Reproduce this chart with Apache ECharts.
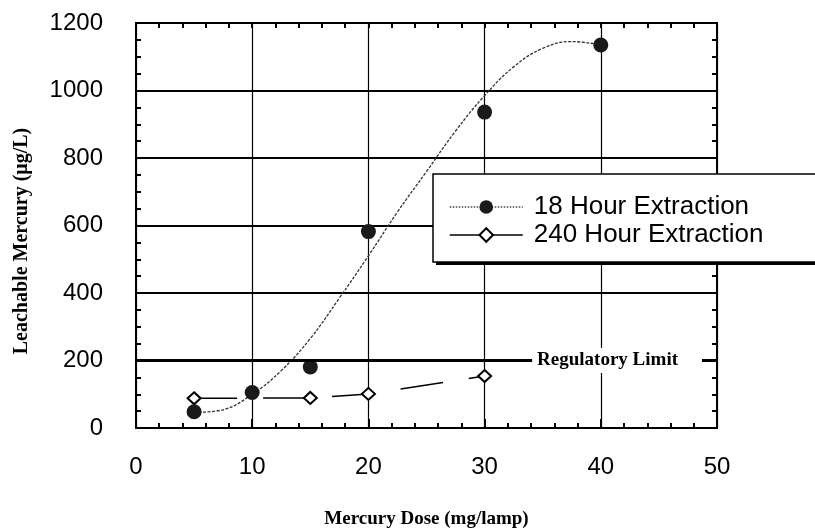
<!DOCTYPE html>
<html>
<head>
<meta charset="utf-8">
<script src="https://cdn.jsdelivr.net/npm/echarts@6/dist/echarts.min.js"></script>
<style>
  html, body { margin: 0; padding: 0; background: #fff; }
  #chart { width: 815px; height: 531px; }
</style>
</head>
<body>
<div id="chart"></div>
<script>
// 18 hour extraction, measured points
const hour18Dose = [5, 10, 15, 20, 30, 40];
const hour18Hg = [48, 105, 181, 582, 936, 1135];
// 18 hour fitted curve
const fitDose = [5, 7.5, 10, 12.5, 15, 17.5, 20, 22.5, 25, 27.5, 30, 32.5, 35, 37.5, 40];
const fitHg = [46, 54, 100, 170, 265, 385, 510, 640, 760, 880, 985, 1070, 1125, 1145, 1135];
// 240 hour extraction
const hour240Dose = [5, 15, 20, 30];
const hour240Hg = [88, 89, 101, 154];
const regLimit = 200;

const pairs = (xs, ys) => xs.map((x, i) => [x, ys[i]]);

let myChart = echarts.init(document.getElementById('chart'));
const sans = 'Liberation Sans, Arial, sans-serif';
const serif = 'Liberation Serif, Times New Roman, serif';

// inside ticks for every side of the frame
const tickStyle = { color: '#000', width: 2 };

let option = {
  animation: false,
  grid: {
    left: 136, right: 98, top: 23, bottom: 103,
    outerBoundsMode: 'none',
    show: true, borderColor: '#000', borderWidth: 2
  },
  // solid drop shadow of the legend box
  graphic: [{
    type: 'rect', left: 436, top: 181, z: 9, silent: true,
    shape: { width: 400, height: 84 },
    style: { fill: '#000' }
  }],
  legend: {
    orient: 'vertical',
    left: 433, top: 174, z: 10,
    padding: [20, 90, 14, 16],
    itemWidth: 73, itemHeight: 17, itemGap: 2,
    backgroundColor: '#fff',
    borderColor: '#000', borderWidth: 1.5,
    textStyle: { fontSize: 26, fontFamily: sans, color: '#000', padding: [0, 0, 0, 6] },
    data: [
      { name: '18 Hour Extraction', lineStyle: { opacity: 1, width: 1.5, type: 'dotted', color: '#444' } },
      { name: '240 Hour Extraction', lineStyle: { width: 1.5, type: 'solid', color: '#000' } }
    ]
  },
  xAxis: [
    {
      type: 'value', min: 0, max: 50, interval: 10,
      axisLine: { show: false, onZero: false },
      axisTick: { inside: true, length: 9, lineStyle: tickStyle },
      minorTick: { show: true, splitNumber: 5, length: 5, lineStyle: tickStyle },
      splitLine: { show: true, lineStyle: { color: '#000', width: 1.2 } },
      axisLabel: { margin: 27, fontSize: 24, fontFamily: sans, color: '#000' },
      name: 'Mercury Dose (mg/lamp)',
      nameLocation: 'middle', nameGap: 82,
      nameTextStyle: { fontSize: 19, fontWeight: 'bold', fontFamily: serif, color: '#000' }
    },
    {
      type: 'value', min: 0, max: 50, interval: 10, position: 'top',
      axisLine: { show: false, onZero: false },
      axisTick: { inside: true, length: 5, lineStyle: tickStyle },
      minorTick: { show: true, splitNumber: 5, length: 5, lineStyle: tickStyle },
      splitLine: { show: false },
      axisLabel: { show: false }
    }
  ],
  yAxis: [
    {
      type: 'value', min: 0, max: 1200, interval: 200,
      axisLine: { show: false, onZero: false },
      axisTick: { inside: true, length: 5, lineStyle: tickStyle },
      minorTick: { show: true, splitNumber: 4, length: 5, lineStyle: tickStyle },
      splitLine: { show: true, lineStyle: { color: '#000', width: 1.8 } },
      axisLabel: { margin: 33, fontSize: 24, fontFamily: sans, color: '#000', formatter: v => String(v) },
      name: 'Leachable Mercury (μg/L)',
      nameLocation: 'middle', nameGap: 104,
      nameTextStyle: { fontSize: 20, fontWeight: 'bold', fontFamily: serif, color: '#000', padding: [0, 31, 0, 0] }
    },
    {
      type: 'value', min: 0, max: 1200, interval: 200, position: 'right',
      axisLine: { show: false, onZero: false },
      axisTick: { inside: true, length: 5, lineStyle: tickStyle },
      minorTick: { show: true, splitNumber: 4, length: 5, lineStyle: tickStyle },
      splitLine: { show: false },
      axisLabel: { show: false }
    }
  ],
  series: [
    {
      name: '18 Hour fit',
      type: 'line',
      data: pairs(fitDose, fitHg),
      smooth: 0.4,
      showSymbol: false,
      silent: true,
      lineStyle: { color: '#333', width: 1.3, type: [3, 1.5] },
      z: 2
    },
    {
      name: '240 Hour Extraction',
      type: 'line',
      data: pairs(hour240Dose, hour240Hg),
      symbol: 'emptyDiamond',
      symbolSize: [13, 12],
      itemStyle: { color: '#000', borderColor: '#000', borderWidth: 2 },
      lineStyle: { color: '#000', width: 1.5, type: [43, 26] },
      markLine: {
        silent: true,
        symbol: 'none',
        data: [{ yAxis: regLimit }],
        lineStyle: { color: '#000', width: 3, type: 'solid' },
        label: {
          position: 'insideEnd',
          distance: 15,
          formatter: 'Regulatory Limit',
          fontSize: 19, fontWeight: 'bold', fontFamily: serif, color: '#000',
          backgroundColor: '#fff',
          padding: [3, 24, 3, 5]
        }
      },
      z: 3
    },
    {
      name: '18 Hour Extraction',
      type: 'line',
      data: pairs(hour18Dose, hour18Hg),
      symbol: 'circle',
      symbolSize: 15,
      itemStyle: { color: '#1a1a1a' },
      lineStyle: { opacity: 0 },
      z: 4
    }
  ]
};
myChart.setOption(option);
</script>
</body>
</html>
